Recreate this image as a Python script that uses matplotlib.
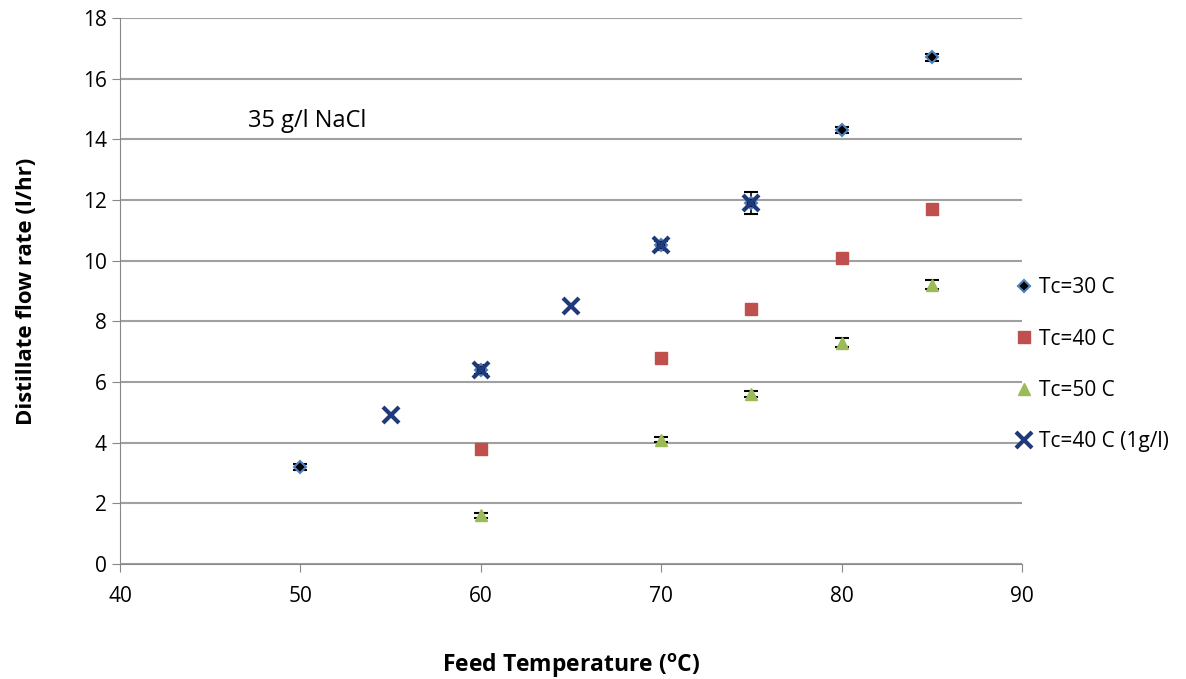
import matplotlib.pyplot as plt

plt.rcParams['font.family'] = ['Open Sans', 'DejaVu Sans']

t30_x = [50, 60, 70, 75, 80, 85]
t30_y = [3.2, 6.4, 10.5, 11.9, 14.3, 16.7]
t30_err = [0.1, 0.15, 0.15, 0.35, 0.1, 0.12]

t40_x = [60, 70, 75, 80, 85]
t40_y = [3.8, 6.8, 8.4, 10.1, 11.7]

t50_x = [60, 70, 75, 80, 85]
t50_y = [1.6, 4.1, 5.6, 7.3, 9.2]
t50_err = [0.08, 0.08, 0.1, 0.15, 0.15]

t40b_x = [55, 60, 65, 70, 75]
t40b_y = [4.9, 6.4, 8.5, 10.5, 11.9]

labels = ['Tc=30 C', 'Tc=40 C', 'Tc=50 C', 'Tc=40 C (1g/l)']

fig = plt.figure(figsize=(11.86, 6.79), dpi=100)
ax = fig.add_axes([120 / 1186, 115 / 679, 902 / 1186, 546 / 679])

ax.errorbar(t50_x, t50_y, yerr=t50_err, fmt='none', ecolor='black', elinewidth=1.2,
            capsize=5, capthick=1.5, zorder=2)
ax.errorbar(t30_x, t30_y, yerr=t30_err, fmt='none', ecolor='black', elinewidth=1.2,
            capsize=5, capthick=1.5, zorder=2)
h50, = ax.plot(t50_x, t50_y, '^', color='#9BBB59', ms=9, zorder=3)
h40, = ax.plot(t40_x, t40_y, 's', color='#C0504D', ms=9, zorder=3)
h30, = ax.plot(t30_x, t30_y, 'D', color='black', mec='#4F81BD', mew=1.5, ms=6, zorder=4)
h40b, = ax.plot(t40b_x, t40b_y, 'x', color='#1F3A7A', ms=12, mew=3, zorder=5)

ax.set_xlim(40, 90)
ax.set_ylim(0, 18)
ax.set_xticks(range(40, 91, 10))
ax.set_yticks(range(0, 19, 2))
ax.yaxis.grid(True, color='#A0A0A0', lw=1.5)
ax.set_axisbelow(True)
for s in ['top', 'right']:
    ax.spines[s].set_visible(False)
for s in ['left', 'bottom']:
    ax.spines[s].set_color('#888888')
ax.tick_params(labelsize=15, colors='#888888', labelcolor='black', length=6)
ax.tick_params(axis='x', pad=10)

ax.set_xlabel('Feed Temperature ($\\mathregular{^{o}}$C)', fontsize=16.5, fontweight='bold', labelpad=32)
ax.set_ylabel('Distillate flow rate (l/hr)', fontsize=16, fontweight='bold', labelpad=33)
ax.text(47.1, 14.6, '35 g/l NaCl', fontsize=17, va='center')

ax.legend([h30, h40, h50, h40b], labels, loc='center left',
          bbox_to_anchor=(0.97, 0.365), frameon=False, fontsize=15, labelspacing=1.45,
          handlelength=1.0, handletextpad=0.2)

fig.savefig('out.png', dpi=100)
